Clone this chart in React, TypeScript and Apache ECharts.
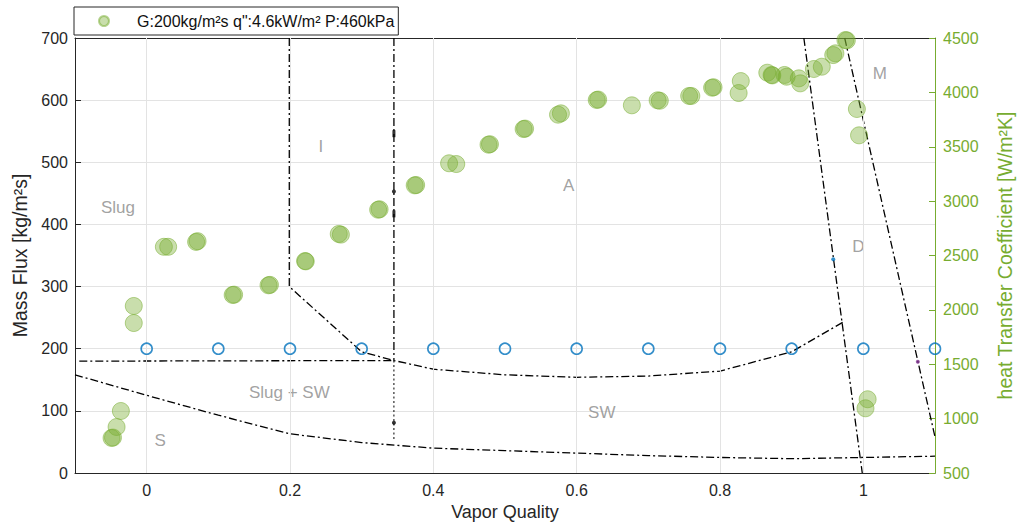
import React, { useEffect, useRef } from 'react';
import * as echarts from 'echarts';

const FONT = '"Liberation Sans", Arial, Helvetica, sans-serif';
const GREEN = '#77AC30';
const BLUE = '#0072BD';
const PURPLE = '#7E2F8E';
const AXIS = '#262626';
const GRID = '#e3e3e3';
const REGION = '#8a8a8a';

// ---------- data ----------
const xTickValues = [0, 0.2, 0.4, 0.6, 0.8, 1];
const seriesName = 'G:200kg/m²s q":4.6kW/m² P:460kPa';

// heat transfer coefficient measurements: [vapor quality, W/m²K]
const htcData: [number, number][] = [
  [-0.049, 822], [-0.047, 826],
  [-0.042, 923],
  [-0.036, 1070],
  [-0.018, 1879],
  [-0.018, 2036],
  [0.024, 2580], [0.030, 2580],
  [0.069, 2625], [0.071, 2632],
  [0.120, 2137], [0.122, 2140],
  [0.170, 2226], [0.172, 2230],
  [0.221, 2449], [0.222, 2446],
  [0.268, 2698], [0.271, 2692],
  [0.323, 2921], [0.325, 2925],
  [0.374, 3145], [0.376, 3148],
  [0.422, 3348], [0.432, 3341],
  [0.477, 3519], [0.479, 3523],
  [0.526, 3663], [0.528, 3667],
  [0.574, 3795], [0.578, 3807],
  [0.628, 3930], [0.630, 3934],
  [0.677, 3881],
  [0.713, 3927], [0.716, 3923],
  [0.757, 3967], [0.760, 3967],
  [0.789, 4043], [0.791, 4047],
  [0.829, 4104], [0.826, 3994],
  [0.866, 4181], [0.872, 4160], [0.873, 4156],
  [0.890, 4160], [0.893, 4144],
  [0.910, 4129], [0.912, 4083],
  [0.931, 4215], [0.942, 4236],
  [0.958, 4343], [0.961, 4359],
  [0.975, 4481], [0.977, 4478],
  [0.991, 3847],
  [0.994, 3605],
  [1.006, 1178], [1.003, 1095],
];

// operating points on the flow map
const testQuality = [0, 0.1, 0.2, 0.3, 0.4, 0.5, 0.6, 0.7, 0.8, 0.9, 1.0, 1.1];
const testMassFlux = [200, 200, 200, 200, 200, 200, 200, 200, 200, 200, 200, 200];

// flow pattern boundaries: [quality, mass flux]
const boundaryIntermittent: [number, number][] = [
  [0.199, 700], [0.199, 300], [0.3, 195], [0.345, 181], [0.4, 167], [0.5, 158],
  [0.6, 154], [0.7, 156], [0.8, 164], [0.9, 195], [0.972, 243],
];
const boundarySlug: [number, number][] = [[-0.094, 180], [0.345, 181]];
const boundaryXiaUpper: [number, number][] = [[0.345, 700], [0.345, 181]];
const boundaryXiaLower: [number, number][] = [[0.345, 181], [0.345, 53]];
const boundaryStratified: [number, number][] = [
  [-0.1, 158], [0, 125], [0.1, 93], [0.2, 63], [0.3, 49], [0.4, 40], [0.5, 36],
  [0.6, 32], [0.7, 28], [0.8, 25], [0.9, 23], [1.0, 25], [1.1, 27],
];
const boundaryDryout: [number, number][] = [[0.917, 700], [0.9985, 0]];
const boundaryMist: [number, number][] = [[0.974, 700], [1.1, 58]];

// small marks on the x = 0.345 line
const lineMarkQuality = [0.345, 0.345, 0.345, 0.345];
const lineMarkFlux = [546, 453, 417, 81];
const lineMarkSymbol = ['rect', 'circle', 'rect', 'circle'];

// region labels
const regionNames = ['Slug', 'I', 'A', 'M', 'D', 'Slug + SW', 'S', 'SW'];
const regionX = [-0.04, 0.243, 0.589, 1.023, 0.993, 0.199, 0.019, 0.635];
const regionY = [428, 526, 463, 643, 365, 129, 53, 97];

// ---------- option ----------
const dashDot = [8, 3, 2, 3];

const boundaryLine = (data: [number, number][], type: any = dashDot, width = 1.3) => ({
  type: 'line',
  xAxisIndex: 0,
  yAxisIndex: 0,
  data,
  symbol: 'none',
  showSymbol: false,
  silent: true,
  z: 4,
  lineStyle: { color: '#000', width, type },
});

const option: any = {
  animation: false,
  textStyle: { fontFamily: FONT },
  grid: { left: 75, right: 84, top: 38, bottom: 58, containLabel: false, outerBoundsMode: 'none' },
  legend: {
    show: true,
    data: [seriesName],
    left: 74,
    top: 7,
    orient: 'horizontal',
    icon: 'circle',
    itemWidth: 10,
    itemHeight: 10,
    symbolKeepAspect: true,
    padding: [6, 4, 6, 24],
    borderColor: AXIS,
    borderWidth: 1,
    borderRadius: 0,
    backgroundColor: '#fff',
    textStyle: { fontSize: 16, color: '#111', fontFamily: FONT, padding: [0, 0, 0, 23] },
  },
  xAxis: [
    {
      type: 'value',
      min: -0.1,
      max: 1.1,
      position: 'bottom',
      name: 'Vapor Quality',
      nameLocation: 'middle',
      nameGap: 30,
      nameTextStyle: { fontSize: 18, color: AXIS },
      axisLine: { show: true, onZero: false, lineStyle: { color: AXIS, width: 1 } },
      axisTick: { show: true, inside: true, length: 6, customValues: xTickValues, lineStyle: { color: AXIS } },
      axisLabel: { show: true, customValues: xTickValues, fontSize: 16, color: AXIS, margin: 9 },
      splitLine: { show: false },
    },
    {
      type: 'value',
      min: -0.1,
      max: 1.1,
      position: 'top',
      axisLine: { show: true, onZero: false, lineStyle: { color: AXIS, width: 1 } },
      axisTick: { show: true, inside: true, length: 6, customValues: xTickValues, lineStyle: { color: AXIS } },
      axisLabel: { show: false },
      splitLine: { show: false },
    },
  ],
  yAxis: [
    {
      type: 'value',
      min: 0,
      max: 700,
      interval: 100,
      position: 'left',
      name: 'Mass Flux [kg/m²s]',
      nameLocation: 'middle',
      nameGap: 39,
      nameRotate: 90,
      nameTextStyle: { fontSize: 19.5, color: AXIS },
      axisLine: { show: true, onZero: false, lineStyle: { color: AXIS, width: 1 } },
      axisTick: { show: true, inside: true, length: 6, lineStyle: { color: AXIS } },
      axisLabel: { fontSize: 16, color: AXIS, margin: 7, formatter: (v: number) => String(v) },
      splitLine: { show: true, lineStyle: { color: GRID, width: 1 } },
    },
    {
      type: 'value',
      min: 500,
      max: 4500,
      interval: 500,
      position: 'right',
      name: 'heat Transfer Coefficient [W/m²K]',
      nameLocation: 'middle',
      nameGap: 60,
      nameRotate: 90,
      nameTextStyle: { fontSize: 19.5, color: GREEN },
      axisLine: { show: true, onZero: false, lineStyle: { color: GREEN, width: 1 } },
      axisTick: { show: true, inside: true, length: 6, lineStyle: { color: GREEN } },
      axisLabel: { fontSize: 16, color: GREEN, margin: 8, formatter: (v: number) => String(v) },
      splitLine: { show: false },
    },
  ],
  series: [
    {
      // vertical grid lines at the quality ticks
      type: 'line',
      name: 'xgrid',
      xAxisIndex: 0,
      yAxisIndex: 0,
      data: [],
      z: 0,
      silent: true,
      markLine: {
        silent: true,
        symbol: 'none',
        label: { show: false },
        lineStyle: { color: GRID, width: 1, type: 'solid' },
        data: xTickValues.map((v) => ({ xAxis: v })),
      },
    },
    boundaryLine(boundaryIntermittent),
    boundaryLine(boundarySlug),
    boundaryLine(boundaryXiaUpper),
    boundaryLine(boundaryXiaLower, [2, 2.5], 1),
    boundaryLine(boundaryStratified),
    boundaryLine(boundaryDryout),
    boundaryLine(boundaryMist),
    {
      type: 'scatter',
      name: 'marks',
      xAxisIndex: 0,
      yAxisIndex: 0,
      silent: true,
      z: 5,
      data: lineMarkQuality.map((q, i) => ({
        value: [q, lineMarkFlux[i]],
        symbol: lineMarkSymbol[i],
        symbolSize: lineMarkSymbol[i] === 'rect' ? [3, 7] : 4,
      })),
      itemStyle: { color: '#000' },
    },
    {
      type: 'scatter',
      name: 'dots',
      xAxisIndex: 0,
      yAxisIndex: 0,
      silent: true,
      z: 5,
      symbolSize: 4,
      data: [
        { value: [0.958, 344], itemStyle: { color: BLUE } },
        { value: [1.076, 179], itemStyle: { color: PURPLE } },
      ],
    },
    {
      type: 'scatter',
      name: 'test points',
      xAxisIndex: 0,
      yAxisIndex: 0,
      silent: true,
      clip: false,
      z: 6,
      symbol: 'circle',
      symbolSize: 11,
      itemStyle: { color: 'rgba(255,255,255,0)', borderColor: BLUE, borderWidth: 1.6 },
      data: testQuality.map((q, i) => [q, testMassFlux[i]]),
    },
    {
      type: 'scatter',
      name: 'regions',
      xAxisIndex: 0,
      yAxisIndex: 0,
      silent: true,
      z: 3,
      symbolSize: 1,
      itemStyle: { color: 'rgba(0,0,0,0)' },
      label: { show: true, position: 'inside', formatter: '{b}', color: REGION, fontSize: 17, fontFamily: FONT },
      data: regionNames.map((n, i) => ({ name: n, value: [regionX[i], regionY[i]] })),
    },
    {
      type: 'scatter',
      name: seriesName,
      xAxisIndex: 0,
      yAxisIndex: 1,
      clip: false,
      z: 7,
      symbol: 'circle',
      symbolSize: 17,
      itemStyle: { color: 'rgba(119,172,48,0.5)', borderColor: 'rgba(119,172,48,0.65)', borderWidth: 1 },
      data: htcData,
    },
  ],
};

export default function App() {
  const ref = useRef<HTMLDivElement>(null);
  useEffect(() => {
    if (!ref.current) return;
    const chart = echarts.init(ref.current, null, { renderer: 'svg' });
    chart.setOption(option);
    return () => chart.dispose();
  }, []);
  return (
    <div
      ref={ref}
      style={{ position: 'fixed', left: 0, top: 0, width: 1019, height: 531, background: '#fff' }}
    />
  );
}
